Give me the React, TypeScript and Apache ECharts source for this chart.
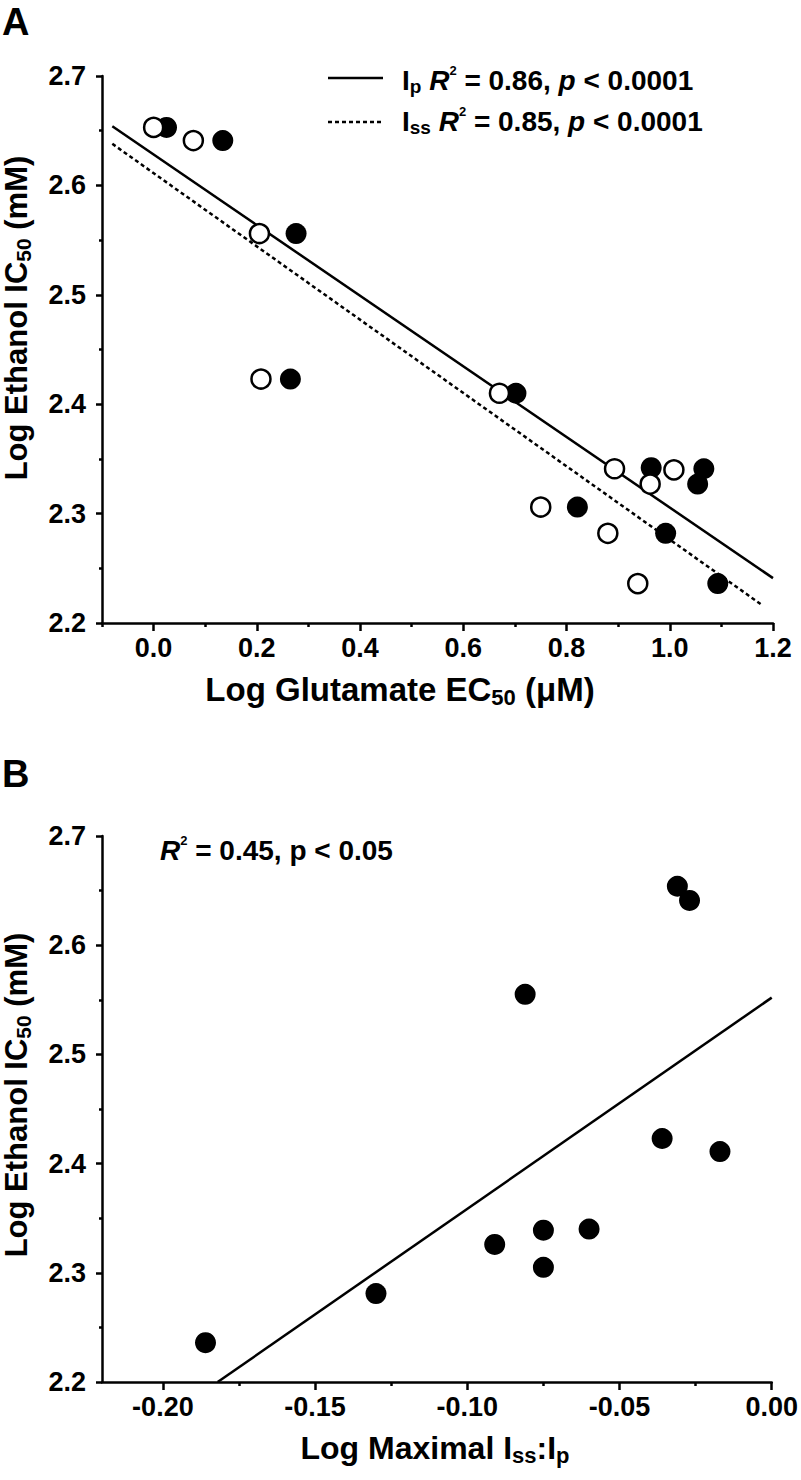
import React, { useEffect, useRef } from "react";
import * as echarts from "echarts";

const FONT = "'Liberation Sans', Arial, Helvetica, sans-serif";

// Axis ticks
const aXTicks = [0, 0.2, 0.4, 0.6, 0.8, 1.0, 1.2];
const aXMinorTicks = [-0.1, 0.1, 0.3, 0.5, 0.7, 0.9, 1.1];
const bXTicks = [-0.2, -0.15, -0.1, -0.05, 0];
const bXMinorTicks = [-0.175, -0.125, -0.075, -0.025];

// Panel A: Ip (filled) vs Iss (open)
const ipGlutamate = [0.025, 0.134, 0.276, 0.265, 0.702, 0.964, 1.066, 1.054, 0.821, 0.992, 1.093];
const ipEthanol = [2.653, 2.641, 2.556, 2.423, 2.41, 2.342, 2.341, 2.327, 2.306, 2.282, 2.236];
const issGlutamate = [0.0, 0.077, 0.205, 0.208, 0.67, 0.893, 1.008, 0.962, 0.75, 0.88, 0.938];
const issEthanol = [2.653, 2.641, 2.556, 2.423, 2.41, 2.341, 2.34, 2.327, 2.306, 2.282, 2.236];

// Regression lines panel A (end points)
const ipFitX = [-0.08, 1.2];
const ipFitY = [2.654, 2.241];
const issFitX = [-0.08, 1.18];
const issFitY = [2.638, 2.216];

// Panel B
const ratioX = [-0.031, -0.027, -0.081, -0.036, -0.017, -0.06, -0.075, -0.091, -0.075, -0.13, -0.186];
const ratioEthanol = [2.654, 2.641, 2.555, 2.423, 2.411, 2.34, 2.339, 2.326, 2.305, 2.281, 2.236];
const ratioFitX = [-0.182, 0.0];
const ratioFitY = [2.2, 2.552];

const zip = (xs: number[], ys: number[]) => xs.map((x, i) => [x, ys[i]]);

const base = { fontFamily: FONT, fontWeight: "bold", color: "#000" } as any;

function richSet(size: number) {
  const lh = Math.round(size * 1.15);
  return {
    n: { ...base, fontSize: size, lineHeight: lh },
    it: { ...base, fontSize: size, lineHeight: lh, fontStyle: "italic" },
    sub: { ...base, fontSize: Math.round(size * 0.68), lineHeight: Math.round(size * 0.68), verticalAlign: "bottom" },
    sup: { ...base, fontSize: Math.round(size * 0.45), lineHeight: Math.round(size * 0.45), verticalAlign: "top" },
  };
}

export default function App() {
  const ref = useRef<HTMLDivElement>(null);
  useEffect(() => {
    if (!ref.current) return;
    const chart = echarts.init(ref.current, undefined, { renderer: "svg" });
    const axisLine = { show: true, onZero: false, lineStyle: { color: "#000", width: 2.5 } };
    const tickLine = { color: "#000", width: 2.5 };
    const labelStyle = { ...base, fontSize: 27 };

    const yAxisFor = (gi: number) => ({
      type: "value",
      gridIndex: gi,
      min: 2.2,
      max: 2.7,
      interval: 0.1,
      axisLine,
      axisTick: { show: true, length: 6, lineStyle: tickLine },
      minorTick: { show: true, splitNumber: 2, length: 3, lineStyle: tickLine },
      splitLine: { show: false },
      minorSplitLine: { show: false },
      axisLabel: { ...labelStyle, margin: 16, formatter: (v: number) => v.toFixed(1) },
    });

    const option: any = {
      animation: false,
      backgroundColor: "#fff",
      grid: [
        { left: 102, top: 76, width: 671, height: 547 },
        { left: 102, top: 836, width: 674, height: 546 },
      ],
      xAxis: [
        {
          type: "value",
          gridIndex: 0,
          min: -0.1,
          max: 1.2,
          position: "bottom",
          axisLine,
          axisTick: { show: true, length: 8, lineStyle: tickLine, customValues: aXTicks },
          axisLabel: { ...labelStyle, margin: 11, customValues: aXTicks, formatter: (v: number) => v.toFixed(1) },
          splitLine: { show: false },
        },
        {
          type: "value",
          gridIndex: 0,
          min: -0.1,
          max: 1.2,
          position: "bottom",
          axisLine: { show: false },
          axisTick: { show: true, length: 4, lineStyle: tickLine, customValues: aXMinorTicks },
          axisLabel: { show: false },
          splitLine: { show: false },
        },
        {
          type: "value",
          gridIndex: 1,
          min: -0.22,
          max: 0,
          position: "bottom",
          axisLine,
          axisTick: { show: true, length: 8, lineStyle: tickLine, customValues: bXTicks },
          axisLabel: { ...labelStyle, margin: 11, customValues: bXTicks, formatter: (v: number) => v.toFixed(2) },
          splitLine: { show: false },
        },
        {
          type: "value",
          gridIndex: 1,
          min: -0.22,
          max: 0,
          position: "bottom",
          axisLine: { show: false },
          axisTick: { show: true, length: 4, lineStyle: tickLine, customValues: bXMinorTicks },
          axisLabel: { show: false },
          splitLine: { show: false },
        },
      ],
      yAxis: [yAxisFor(0), yAxisFor(1)],
      series: [
        {
          type: "line",
          name: "Ip fit",
          xAxisIndex: 0,
          yAxisIndex: 0,
          data: zip(ipFitX, ipFitY),
          symbol: "none",
          lineStyle: { color: "#000", width: 2.5 },
          z: 2,
        },
        {
          type: "line",
          name: "Iss fit",
          xAxisIndex: 0,
          yAxisIndex: 0,
          data: zip(issFitX, issFitY),
          symbol: "none",
          lineStyle: { color: "#000", width: 2.5, type: [4, 3] },
          z: 2,
        },
        {
          type: "scatter",
          name: "Ip",
          xAxisIndex: 0,
          yAxisIndex: 0,
          data: zip(ipGlutamate, ipEthanol),
          symbol: "circle",
          symbolSize: 21,
          itemStyle: { color: "#000", opacity: 1 },
          z: 3,
        },
        {
          type: "scatter",
          name: "Iss",
          xAxisIndex: 0,
          yAxisIndex: 0,
          data: zip(issGlutamate, issEthanol),
          symbol: "circle",
          symbolSize: 19,
          itemStyle: { color: "#fff", borderColor: "#000", borderWidth: 2.5, opacity: 1 },
          z: 4,
        },
        {
          type: "line",
          name: "Ratio fit",
          xAxisIndex: 2,
          yAxisIndex: 1,
          data: zip(ratioFitX, ratioFitY),
          symbol: "none",
          lineStyle: { color: "#000", width: 2.5 },
          z: 2,
        },
        {
          type: "scatter",
          name: "Ratio",
          xAxisIndex: 2,
          yAxisIndex: 1,
          data: zip(ratioX, ratioEthanol),
          symbol: "circle",
          symbolSize: 21,
          itemStyle: { color: "#000", opacity: 1 },
          z: 3,
        },
      ],
      graphic: [
        { type: "text", x: 2, y: 22, style: { ...base, text: "A", fontSize: 38, align: "left", verticalAlign: "middle" } },
        { type: "text", x: 2, y: 774, style: { ...base, text: "B", fontSize: 38, align: "left", verticalAlign: "middle" } },
        // legend panel A
        { type: "line", shape: { x1: 328, y1: 78, x2: 383, y2: 78 }, style: { stroke: "#000", lineWidth: 2.5 } },
        { type: "line", shape: { x1: 328, y1: 122, x2: 381, y2: 122 }, style: { stroke: "#000", lineWidth: 2.5, lineDash: [4, 3] } },
        {
          type: "text",
          x: 402,
          y: 80,
          style: {
            text: "{n|I}{sub|p}{n| }{it|R}{sup|2}{n| = 0.86, }{it|p}{n| < 0.0001}",
            align: "left",
            verticalAlign: "middle",
            rich: richSet(28),
          },
        },
        {
          type: "text",
          x: 402,
          y: 121,
          style: {
            text: "{n|I}{sub|ss}{n| }{it|R}{sup|2}{n| = 0.85, }{it|p}{n| < 0.0001}",
            align: "left",
            verticalAlign: "middle",
            rich: richSet(28),
          },
        },
        // panel B stat text
        {
          type: "text",
          x: 160,
          y: 850,
          style: {
            text: "{it|R}{sup|2}{n| = 0.45, p < 0.05}",
            align: "left",
            verticalAlign: "middle",
            rich: richSet(28),
          },
        },
        // axis titles
        {
          type: "text",
          x: 400,
          y: 689,
          style: {
            text: "{n|Log Glutamate EC}{sub|50}{n| (μM)}",
            align: "center",
            verticalAlign: "middle",
            rich: richSet(33),
          },
        },
        {
          type: "text",
          x: 435,
          y: 1448,
          style: {
            text: "{n|Log Maximal I}{sub|ss}{n|:I}{sub|p}",
            align: "center",
            verticalAlign: "middle",
            rich: richSet(32),
          },
        },
        {
          type: "text",
          x: 16,
          y: 318,
          rotation: Math.PI / 2,
          style: {
            text: "{n|Log Ethanol IC}{sub|50}{n| (mM)}",
            align: "center",
            verticalAlign: "middle",
            rich: richSet(31),
          },
        },
        {
          type: "text",
          x: 16,
          y: 1095,
          rotation: Math.PI / 2,
          style: {
            text: "{n|Log Ethanol IC}{sub|50}{n| (mM)}",
            align: "center",
            verticalAlign: "middle",
            rich: richSet(31),
          },
        },
      ],
    };
    chart.setOption(option);
    return () => chart.dispose();
  }, []);
  return <div ref={ref} style={{ position: "absolute", left: 0, top: 0, width: 801, height: 1480 }} />;
}
